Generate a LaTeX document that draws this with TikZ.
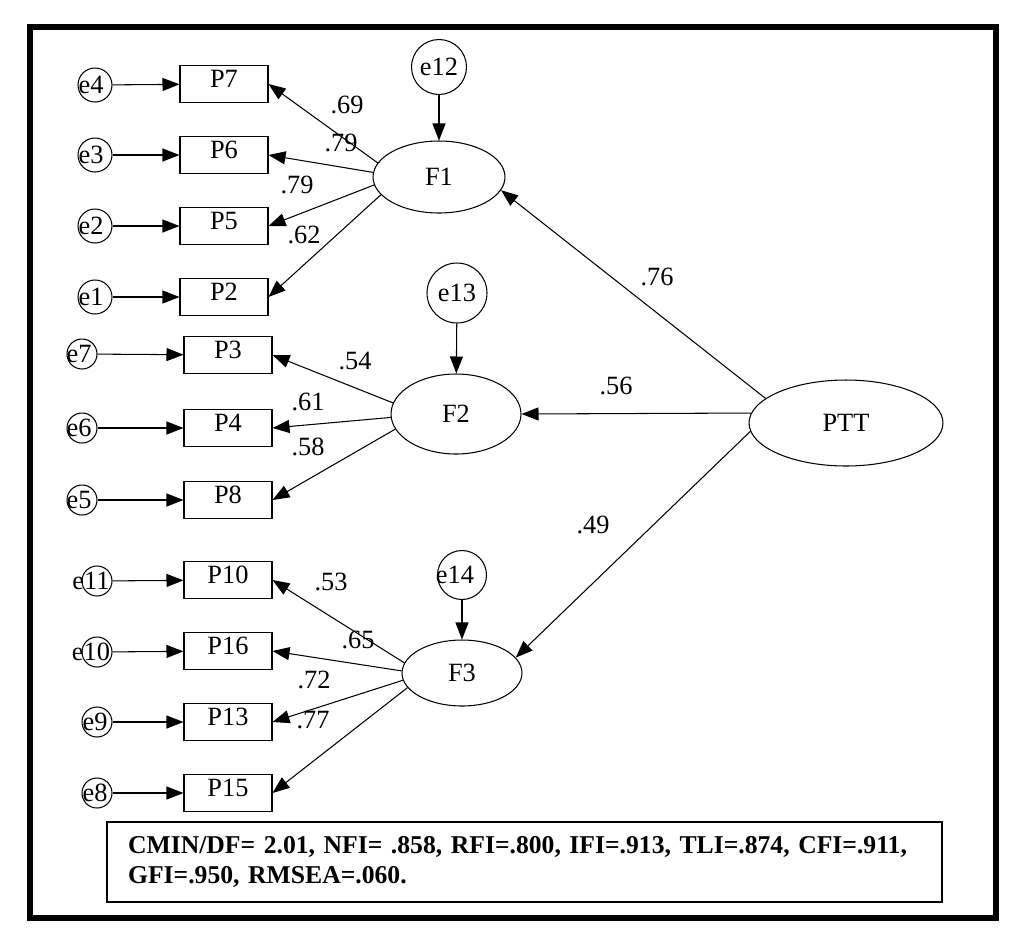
\documentclass[tikz,border=0pt]{standalone}
\usepackage{fontspec}
\setmainfont{Liberation Serif}
\usetikzlibrary{shapes.geometric, arrows.meta}

\begin{document}
\begin{tikzpicture}[
  x=0.02cm, y=-0.02cm,
  font=\fontsize{15}{17}\selectfont,
  obs/.style={draw, line width=0.6pt, minimum width=1.76cm, minimum height=0.74cm, inner sep=0pt, text depth=0.2cm},
  lat/.style={draw, ellipse, line width=0.6pt, inner sep=0pt},
  err/.style={draw, circle, line width=0.6pt, inner sep=0pt, minimum size=#1},
  etxt/.style={inner sep=0pt},
  lbl/.style={inner sep=0pt},
  fitbox/.style={draw, line width=0.8pt, minimum width=16.7cm, minimum height=1.6cm, text width=15.86cm, align=left, inner sep=0pt, font=\bfseries\fontsize{14.6}{17}\selectfont},
  arr/.style={-{Triangle[length=0.34cm, width=0.26cm]}, line width=0.6pt}
]
\useasboundingbox (0,0) rectangle (1011,941);

% outer frame
\node[draw, line width=0.12cm, minimum width=19.32cm, minimum height=17.82cm, inner sep=0pt] (frame) at (513,472.5) {};

% Block 1: F1 and its items
\node[lat, minimum width=2.64cm, minimum height=1.44cm] (F1) at (439,177) {F1};
\node[err=1.1cm, label={[etxt]center:e12}] (e12) at (439,67) {};
\node[obs] (P7) at (224,84) {P7};
\node[obs] (P6) at (224,155) {P6};
\node[obs] (P5) at (224,226) {P5};
\node[obs] (P2) at (224,297) {P2};
\node[err=0.68cm, label={[etxt, xshift=-0.08cm]center:e4}] (e4) at (95,85) {};
\node[err=0.68cm, label={[etxt, xshift=-0.08cm]center:e3}] (e3) at (95,155) {};
\node[err=0.68cm, label={[etxt, xshift=-0.08cm]center:e2}] (e2) at (95,226) {};
\node[err=0.68cm, label={[etxt, xshift=-0.08cm]center:e1}] (e1) at (95,297) {};

% Block 2: F2 and its items
\node[lat, minimum width=2.6cm, minimum height=1.6cm] (F2) at (456,414) {F2};
\node[err=1.2cm, label={[etxt]center:e13}] (e13) at (457,293) {};
\node[obs] (P3) at (228,355) {P3};
\node[obs] (P4) at (228,428) {P4};
\node[obs] (P8) at (228,500) {P8};
\node[err=0.6cm, label={[etxt, xshift=-0.06cm]center:e7}] (e7) at (82,354) {};
\node[err=0.6cm, label={[etxt, xshift=-0.06cm]center:e6}] (e6) at (82,428) {};
\node[err=0.6cm, label={[etxt, xshift=-0.06cm]center:e5}] (e5) at (82,500) {};

% Block 3: F3 and its items
\node[lat, minimum width=2.4cm, minimum height=1.32cm] (F3) at (462,673) {F3};
\node[err=0.98cm, label={[etxt, xshift=-0.14cm]center:e14}] (e14) at (462,575) {};
\node[obs] (P10) at (228,580) {P10};
\node[obs] (P16) at (228,651) {P16};
\node[obs] (P13) at (228,722) {P13};
\node[obs] (P15) at (228,793) {P15};
\node[err=0.6cm, label={[etxt, xshift=-0.12cm]center:e11}] (e11) at (97,581) {};
\node[err=0.6cm, label={[etxt, xshift=-0.12cm]center:e10}] (e10) at (97,652) {};
\node[err=0.6cm, label={[etxt, xshift=-0.04cm]center:e9}] (e9) at (97,722) {};
\node[err=0.6cm, label={[etxt, xshift=-0.04cm]center:e8}] (e8) at (97,793) {};

% second order factor
\node[lat, minimum width=3.88cm, minimum height=1.72cm] (PTT) at (846,423) {PTT};

% fit indices
\node[fitbox] (fit) at (524.5,862) {CMIN/DF= 2.01, NFI= .858, RFI=.800, IFI=.913, TLI=.874, CFI=.911,\\GFI=.950, RMSEA=.060.};

% loadings
\node[lbl] (l69) at (347,105) {.69};
\node[lbl] (l79a) at (341,143) {.79};
\node[lbl] (l79b) at (297,185) {.79};
\node[lbl] (l62) at (304,235) {.62};
\node[lbl] (l54) at (355,361) {.54};
\node[lbl] (l61) at (308,402) {.61};
\node[lbl] (l58) at (308,447) {.58};
\node[lbl] (l53) at (331,582) {.53};
\node[lbl] (l65) at (358,640) {.65};
\node[lbl] (l72) at (314,680) {.72};
\node[lbl] (l77) at (313,720) {.77};
\node[lbl] (l76) at (657,277) {.76};
\node[lbl] (l56) at (616,386) {.56};
\node[lbl] (l49) at (593,525) {.49};

\draw[arr] (e4) -- (P7);
\draw[arr] (e3) -- (P6);
\draw[arr] (e2) -- (P5);
\draw[arr] (e1) -- (P2);
\draw[arr] (e7) -- (P3);
\draw[arr] (e6) -- (P4);
\draw[arr] (e5) -- (P8);
\draw[arr] (e11) -- (P10);
\draw[arr] (e10) -- (P16);
\draw[arr] (e9) -- (P13);
\draw[arr] (e8) -- (P15);
\draw[arr] (e12) -- (F1);
\draw[arr] (e13) -- (F2);
\draw[arr] (e14) -- (F3);

\draw[arr] (F1.167) -- (P7.east);
\draw[arr] (F1.176) -- (P6.east);
\draw[arr] (F1.187) -- (P5.east);
\draw[arr] (F1.197) -- (P2.east);
\draw[arr] (F2.170) -- (P3.east);
\draw[arr] (F2.183) -- (P4.east);
\draw[arr] (F2.194) -- (P8.east);
\draw[arr] (F3.170) -- (P10.east);
\draw[arr] (F3.178) -- (P16.east);
\draw[arr] (F3.187) -- (P13.east);
\draw[arr] (F3.195) -- (P15.east);

\draw[arr] (PTT.163) -- (F1.348);
\draw[arr] (PTT.174) -- (F2.east);
\draw[arr] (PTT.185) -- (F3.16);

\end{tikzpicture}
\end{document}
